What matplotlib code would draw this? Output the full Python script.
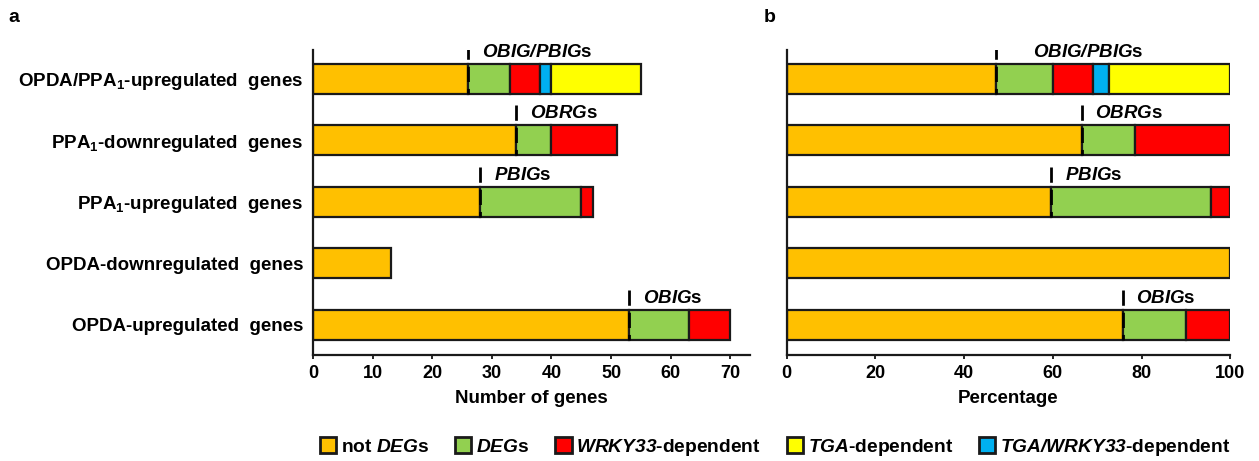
import matplotlib
matplotlib.use("Agg")
import matplotlib.pyplot as plt
from matplotlib.patches import Patch
import numpy as np

plt.rcParams['font.family'] = ['Liberation Sans', 'DejaVu Sans']
plt.rcParams['font.weight'] = 'bold'
plt.rcParams['mathtext.fontset'] = 'custom'
plt.rcParams['mathtext.rm'] = 'Liberation Sans:bold'
plt.rcParams['mathtext.it'] = 'Liberation Sans:italic:bold'
plt.rcParams['mathtext.sf'] = 'Liberation Sans:italic:bold'
plt.rcParams['mathtext.bf'] = 'Liberation Sans:bold'

# Rows listed top to bottom
categories = ["OPDA/PPA$_1$-upregulated  genes",
              "PPA$_1$-downregulated  genes",
              "PPA$_1$-upregulated  genes",
              "OPDA-downregulated  genes",
              "OPDA-upregulated  genes"]
not_degs = [26, 34, 28, 13, 53]
degs = [7, 6, 17, 0, 10]
wrky33 = [5, 11, 2, 0, 7]
tga_wrky33 = [2, 0, 0, 0, 0]
tga = [15, 0, 0, 0, 0]
group_labels = ["OBIG/PBIG", "OBRG", "PBIG", "", "OBIG"]

series_names = ["not $\\mathsf{DEG}$s", "$\\mathsf{DEG}$s", "$\\mathsf{WRKY33}$-dependent",
                "$\\mathsf{TGA}$-dependent", "$\\mathsf{TGA/WRKY33}$-dependent"]
colors = {"not": "#FFC000", "deg": "#92D050", "wrky": "#FF0000", "tga": "#FFFF00", "both": "#00B0F0"}

stack = [(not_degs, colors["not"]), (degs, colors["deg"]), (wrky33, colors["wrky"]),
         (tga_wrky33, colors["both"]), (tga, colors["tga"])]

W, H = 1259, 461
fig = plt.figure(figsize=(W / 100, H / 100), dpi=100)
axL = fig.add_axes([313 / W, 1 - 355 / H, 437 / W, 305 / H])
axR = fig.add_axes([786.7 / W, 1 - 355 / H, 443.6 / W, 305 / H])

n = len(categories)
ypos = np.arange(n)[::-1]
totals = np.array(not_degs) + np.array(degs) + np.array(wrky33) + np.array(tga_wrky33) + np.array(tga)
bh = 0.49

def draw(ax, scale, label_offsets):
    left = np.zeros(n)
    for vals, col in stack:
        v = np.array(vals, dtype=float) * scale
        for i in range(n):
            if v[i] > 0:
                ax.barh(ypos[i], v[i], left=left[i], height=bh, color=col,
                        edgecolor='#1a1a1a', linewidth=1.6, zorder=2)
        left += v
    nd = np.array(not_degs, dtype=float) * scale
    for i in range(n):
        if group_labels[i]:
            x = nd[i]
            ax.plot([x, x], [ypos[i] + bh / 2 + 0.33, ypos[i] - bh / 2], color='black',
                    linewidth=2.0, linestyle=(0, (5.5, 2.5)), zorder=3, solid_capstyle='butt')
            ax.annotate("$\\mathsf{" + group_labels[i] + "}$s", xy=(x, ypos[i] + 0.43),
                        xytext=(label_offsets[i], 0), textcoords='offset points',
                        ha='left', va='center', fontsize=13.5, fontweight='bold')
    for s in ['top', 'right']:
        ax.spines[s].set_visible(False)
    for s in ['left', 'bottom']:
        ax.spines[s].set_linewidth(1.6)
        ax.spines[s].set_color('#1a1a1a')
    ax.set_ylim(-0.49, 4.47)
    ax.tick_params(axis='x', length=3, width=1.2, labelsize=13, pad=4)

draw(axL, np.ones(n), [10, 10, 10, 10, 10])
axL.set_xlim(0, 73.3)
axL.set_xticks(np.arange(0, 71, 10))
axL.set_yticks(ypos)
axL.set_yticklabels(categories, fontsize=13.5, fontweight='bold')
axL.tick_params(axis='y', length=0, pad=7)
axL.set_xlabel("Number of genes", fontsize=13.5, fontweight='bold', labelpad=6)

draw(axR, 100.0 / totals, [26, 9, 10, 10, 10])
axR.set_xlim(0, 100)
axR.set_xticks(np.arange(0, 101, 20))
axR.set_yticks([])
axR.set_xlabel("Percentage", fontsize=13.5, fontweight='bold', labelpad=6)

for ax in (axL, axR):
    for t in ax.get_xticklabels():
        t.set_fontweight('bold')

fig.text(8 / W, 1 - 18 / H, "a", fontsize=14, fontweight='bold', va='center', ha='left')
fig.text(764 / W, 1 - 18 / H, "b", fontsize=14, fontweight='bold', va='center', ha='left')

legend_colors = [colors["not"], colors["deg"], colors["wrky"], colors["tga"], colors["both"]]
handles = [Patch(facecolor=c, edgecolor='#1a1a1a', linewidth=2.0) for c in legend_colors]
fig.legend(handles, series_names, loc='center', bbox_to_anchor=(775 / W, 1 - 447 / H),
           ncol=5, frameon=False, fontsize=13.8, handlelength=0.85, handleheight=0.85,
           handletextpad=0.25, columnspacing=1.35, borderpad=0)

fig.savefig("out.png", dpi=100)
